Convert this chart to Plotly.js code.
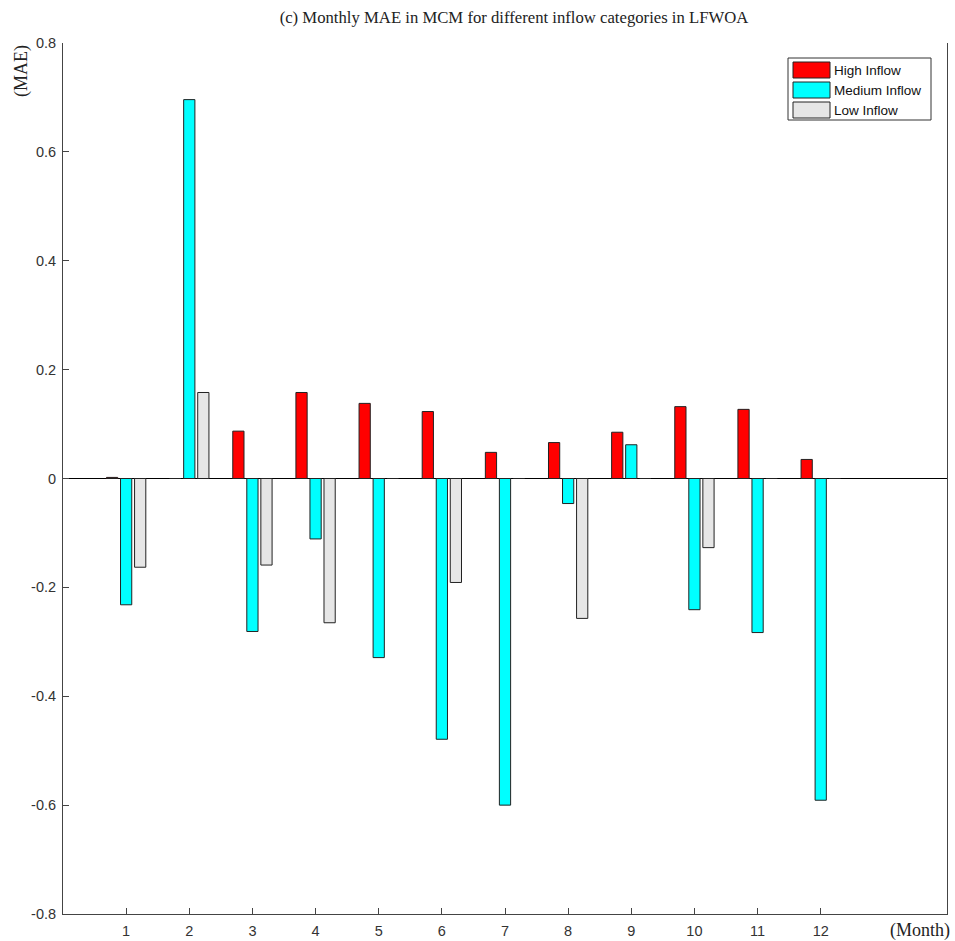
<!DOCTYPE html>
<html>
<head>
<meta charset="utf-8">
<script src="https://cdn.plot.ly/plotly-3.0.1.min.js"></script>
<style>
  html, body { margin: 0; padding: 0; background: #fff; }
  #chart { width: 955px; height: 941px; }
</style>
</head>
<body>
<div id="chart"></div>
<script>
// Monthly MAE (MCM) by inflow category, LFWOA
const months = [1, 2, 3, 4, 5, 6, 7, 8, 9, 10, 11, 12];
const highInflow   = [0.002, 0, 0.087, 0.158, 0.138, 0.123, 0.048, 0.066, 0.085, 0.132, 0.127, 0.035];
const mediumInflow = [-0.232, 0.696, -0.281, -0.111, -0.329, -0.479, -0.600, -0.046, 0.062, -0.241, -0.283, -0.591];
const lowInflow    = [-0.163, 0.158, -0.159, -0.265, 0, -0.191, 0, -0.257, 0, -0.127, 0, 0];
const seriesNames  = ['High Inflow', 'Medium Inflow', 'Low Inflow'];
const seriesColors = ['#ff0000', '#00ffff', '#e6e6e6'];
const yTicks = [-0.8, -0.6, -0.4, -0.2, 0, 0.2, 0.4, 0.6, 0.8];

const allSeries = [highInflow, mediumInflow, lowInflow];
const traces = allSeries.map((vals, i) => ({
  type: 'bar',
  name: seriesNames[i],
  x: months,
  y: vals,
  marker: { color: seriesColors[i], line: { color: '#222', width: 1 } },
  hoverinfo: 'x+y+name'
}));

const W = 955, H = 941;
const M = { l: 63, r: 8, t: 43, b: 27 };
const plotW = W - M.l - M.r, plotH = H - M.t - M.b;
// pixel -> paper coordinate helpers for the boxed legend
const px = v => (v - M.l) / plotW;
const py = v => (H - M.b - v) / plotH;

const serif = 'Liberation Serif, Times New Roman, serif';
const sans = 'Liberation Sans, Arial, sans-serif';

// boxed legend with wide swatches
const legendShapes = [{
  type: 'rect', xref: 'paper', yref: 'paper',
  x0: px(788), x1: px(931), y0: py(58), y1: py(120),
  fillcolor: '#fff', line: { color: '#333', width: 1 }, layer: 'above'
}];
const legendTexts = [];
seriesNames.forEach((name, i) => {
  const top = 62 + i * 20;
  legendShapes.push({
    type: 'rect', xref: 'paper', yref: 'paper',
    x0: px(793), x1: px(830), y0: py(top), y1: py(top + 16),
    fillcolor: seriesColors[i], line: { color: '#222', width: 1 }, layer: 'above'
  });
  legendTexts.push({
    text: name, xref: 'paper', yref: 'paper',
    x: px(832), y: py(top + 8.5), xanchor: 'left', yanchor: 'middle',
    showarrow: false, font: { family: sans, size: 13.5, color: '#111' }
  });
});

const layout = {
  width: W,
  height: H,
  margin: M,
  paper_bgcolor: '#fff',
  plot_bgcolor: '#fff',
  barmode: 'group',
  bargap: 0.333,
  bargroupgap: 0.2,
  showlegend: false,
  title: {
    text: '(c) Monthly MAE in MCM for different inflow categories in LFWOA',
    font: { family: serif, size: 16.7, color: '#222' },
    x: 514 / W, xanchor: 'center',
    y: 1 - 17 / H, yanchor: 'middle'
  },
  xaxis: {
    range: [0, 14],
    tickvals: months,
    ticktext: months.map(String),
    ticks: 'inside',
    ticklen: 6,
    tickcolor: '#444',
    ticklabelstandoff: 4,
    showline: true,
    linecolor: '#444',
    linewidth: 1,
    mirror: false,
    showgrid: false,
    zeroline: false,
    tickfont: { family: sans, size: 14.5, color: '#333' }
  },
  yaxis: {
    range: [-0.8, 0.8],
    tickvals: yTicks,
    ticktext: yTicks.map(v => v === 0 ? '0' : v.toFixed(1)),
    ticks: 'inside',
    ticklen: 6,
    tickcolor: '#444',
    ticklabelstandoff: 3,
    showline: true,
    linecolor: '#444',
    linewidth: 1,
    mirror: true,
    showgrid: false,
    zeroline: true,
    zerolinecolor: '#000',
    zerolinewidth: 1,
    tickfont: { family: sans, size: 14.5, color: '#333' }
  },
  shapes: legendShapes,
  annotations: legendTexts.concat([
    {
      text: '(MAE)', xref: 'paper', yref: 'paper',
      x: px(21), y: py(71), xanchor: 'center', yanchor: 'middle',
      textangle: -90, showarrow: false,
      font: { family: serif, size: 18, color: '#222' }
    },
    {
      text: '(Month)', xref: 'paper', yref: 'paper',
      x: px(952), y: py(930), xanchor: 'right', yanchor: 'middle',
      showarrow: false,
      font: { family: serif, size: 18, color: '#222' }
    }
  ])
};

Plotly.newPlot('chart', traces, layout, { displayModeBar: false, staticPlot: true });
</script>
</body>
</html>
